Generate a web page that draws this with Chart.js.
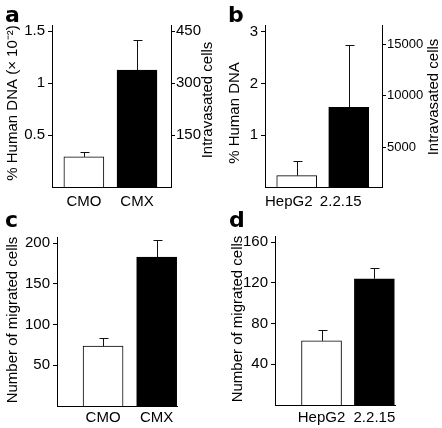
<!DOCTYPE html>
<html>
<head>
<meta charset="UTF-8">
<title>Intravasation and migration</title>
<script src="https://cdn.jsdelivr.net/npm/chart.js@4"></script>
<style>
  body { margin: 0; background: #fff; }
  #wrap { position: relative; width: 442px; height: 428px; overflow: hidden; }
  canvas { position: absolute; }
  .tag { position: absolute; font: bold 22px 'DejaVu Sans', sans-serif; color: #000; line-height: 1; }
</style>
</head>
<body>
<div id="wrap">
  <canvas id="pa" width="221" height="214" style="left:0;top:0"></canvas>
  <canvas id="pb" width="221" height="214" style="left:221px;top:0"></canvas>
  <canvas id="pc" width="221" height="214" style="left:0;top:214px"></canvas>
  <canvas id="pd" width="221" height="214" style="left:221px;top:214px"></canvas>
  <div class="tag" style="left:5px;top:4px">a</div>
  <div class="tag" style="left:228px;top:4px">b</div>
  <div class="tag" style="left:5px;top:209px">c</div>
  <div class="tag" style="left:229px;top:209px">d</div>
</div>
<script>
// data (bar mean, + error)
const groupsCM = ['CMO', 'CMX'];
const groupsHep = ['HepG2', '2.2.15'];

const dnaCM = [0.29, 1.125];
const dnaCMErr = [0.05, 0.295];
const dnaHep = [0.22, 1.54];
const dnaHepErr = [0.28, 1.2];

const migCM = [73.5, 183];
const migCMErr = [10, 21];
const migHep = [63, 124];
const migHepErr = [11, 11];

const ticksA = [0.5, 1, 1.5];
const ticksA2 = [150, 300, 450];
const ticksB = [1, 2, 3];
const ticksB2 = [5000, 10000, 15000];
const ticksC = [50, 100, 150, 200];
const ticksD = [40, 80, 120, 160];

Chart.defaults.font.family = "'Liberation Sans', Arial, sans-serif";
Chart.defaults.font.size = 15;
Chart.defaults.color = '#000';

const errorBars = {
  id: 'errorBars',
  afterDatasetsDraw(chart) {
    const ctx = chart.ctx;
    const y = chart.scales.y;
    const ds = chart.data.datasets[0];
    const meta = chart.getDatasetMeta(0);
    ctx.save();
    ctx.strokeStyle = '#111';
    ctx.lineWidth = 1;
    meta.data.forEach((bar, i) => {
      const x = Math.round(bar.x) + 0.5;
      const top = Math.round(y.getPixelForValue(ds.data[i].y + ds.err[i])) + 0.5;
      ctx.beginPath();
      ctx.moveTo(x, bar.y);
      ctx.lineTo(x, top);
      ctx.moveTo(x - 4, top);
      ctx.lineTo(x + 5, top);
      ctx.stroke();
    });
    ctx.restore();
  }
};

// rotated axis titles (bottom-to-top, also on the right side)
function titles(items) {
  return {
    id: 'titles',
    afterDraw(chart) {
      const ctx = chart.ctx;
      ctx.save();
      ctx.fillStyle = '#000';
      ctx.font = "15px 'Liberation Sans', Arial, sans-serif";
      ctx.textAlign = 'center';
      ctx.textBaseline = 'middle';
      items.forEach(t => {
        ctx.save();
        ctx.translate(t.x, t.y);
        ctx.rotate(-Math.PI / 2);
        ctx.fillText(t.text, 0, 0);
        ctx.restore();
      });
      ctx.restore();
    }
  };
}

function panel(id, cats, vals, err, o) {
  const scales = {
    x: {
      type: 'linear', min: o.xMin, max: o.xMax, offset: false,
      grid: { display: false, drawTicks: false },
      border: { color: '#000', width: 1 },
      ticks: { padding: o.xPad, labelOffset: o.labelOffset || 0, callback: v => cats[v] },
      afterBuildTicks: s => { s.ticks = cats.map((c, i) => ({ value: i })); },
      afterFit: s => { s.height = o.xH; }
    },
    y: {
      position: 'left', min: 0, max: o.yMax,
      grid: { drawOnChartArea: false, tickLength: 4, color: '#000' },
      border: { color: '#000', width: 1 },
      ticks: { padding: 3, callback: v => String(v) },
      afterBuildTicks: s => { s.ticks = o.yTicks.map(v => ({ value: v })); },
      afterFit: s => { s.width = o.yW; }
    }
  };
  if (o.y2Ticks) {
    scales.y2 = {
      position: 'right', min: o.y2Min, max: o.y2Max,
      grid: { drawOnChartArea: false, tickLength: 4, color: '#000' },
      border: { color: '#000', width: 1 },
      ticks: { padding: 1, font: { size: o.y2Font || 15 }, callback: v => String(v) },
      afterBuildTicks: s => { s.ticks = o.y2Ticks.map(v => ({ value: v })); },
      afterFit: s => { s.width = o.y2W; }
    };
  }
  return new Chart(document.getElementById(id), {
    type: 'bar',
    data: {
      datasets: [{
        data: cats.map((c, i) => ({ x: i, y: vals[i] })),
        err: err,
        backgroundColor: ['#fff', '#000'],
        borderColor: '#000',
        borderWidth: 1,
        barThickness: 40,
        yAxisID: 'y'
      }]
    },
    options: {
      responsive: false,
      animation: false,
      devicePixelRatio: 1,
      layout: { padding: { top: o.top, right: o.right || 0, left: 0, bottom: 0 } },
      plugins: { legend: { display: false }, tooltip: { enabled: false } },
      scales: scales
    },
    plugins: [errorBars, titles(o.titles)]
  });
}

panel('pa', groupsCM, dnaCM, dnaCMErr, {
  xMin: -0.60, xMax: 1.64, xH: 27, xPad: 6, top: 25,
  yMax: 1.56, yTicks: ticksA, yW: 52,
  y2Min: 0, y2Max: 468, y2Ticks: ticksA2, y2W: 50,
  titles: [
    { text: '% Human DNA (\u00d7 10\u207b\u00b2)', x: 13, y: 103 },
    { text: 'Intravasated cells', x: 208, y: 100 }
  ]
});

panel('pb', groupsHep, dnaHep, dnaHepErr, {
  xMin: -0.61, xMax: 1.64, xH: 27, xPad: 6, top: 25, labelOffset: -8,
  yMax: 3.135, yTicks: ticksB, yW: 44,
  y2Min: 1117, y2Max: 16845, y2Ticks: ticksB2, y2W: 60, y2Font: 13,
  titles: [
    { text: '% Human DNA', x: 14, y: 113 },
    { text: 'Intravasated cells', x: 213, y: 97 }
  ]
});

panel('pc', groupsCM, migCM, migCMErr, {
  xMin: -0.86, xMax: 1.38, xH: 22, xPad: 3, top: 23, right: 44,
  yMax: 207.6, yTicks: ticksC, yW: 57,
  titles: [{ text: 'Number of migrated cells', x: 13, y: 106 }]
});

panel('pd', groupsHep, migHep, migHepErr, {
  xMin: -0.88, xMax: 1.39, xH: 23, xPad: 4, top: 22, right: 47,
  yMax: 166, yTicks: ticksD, yW: 54,
  titles: [{ text: 'Number of migrated cells', x: 17, y: 105 }]
});
</script>
</body>
</html>
